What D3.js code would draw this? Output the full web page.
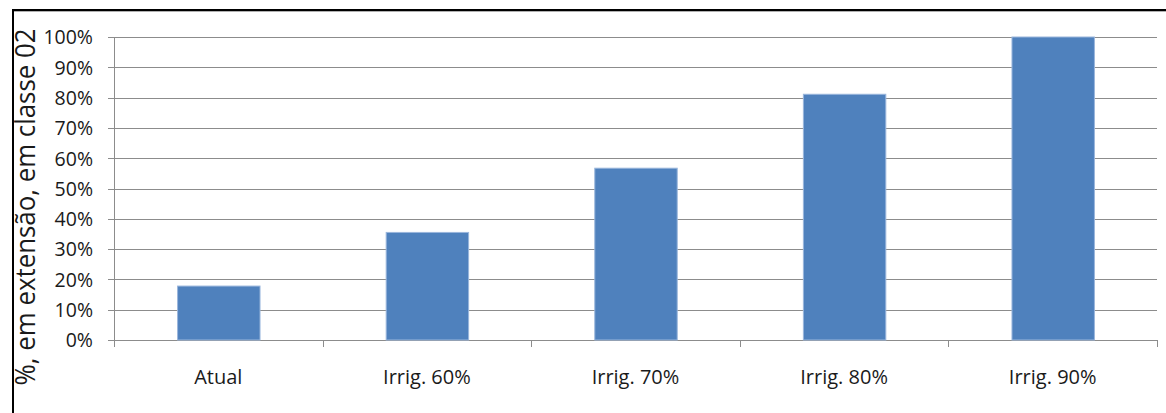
<!DOCTYPE html>
<html>
<head>
<meta charset="utf-8">
<script src="https://cdn.jsdelivr.net/npm/d3@7"></script>
<style>
  html, body { margin: 0; padding: 0; background: #fff; }
  svg { display: block; }
  text { font-family: "Open Sans", sans-serif; fill: #1a1a1a; }
</style>
</head>
<body>
<svg id="chart" width="1166" height="413"></svg>
<script>
// Share of extent in class 02 per irrigation scenario
const categories = ["Atual", "Irrig. 60%", "Irrig. 70%", "Irrig. 80%", "Irrig. 90%"];
const values = [17.8, 35.5, 56.7, 81.1, 100];
const yTicks = [0, 10, 20, 30, 40, 50, 60, 70, 80, 90, 100];
const yTitle = "%, em extensão, em classe 02";

const svg = d3.select("#chart");
const plot = { left: 114, right: 1157, top: 37, bottom: 340 };

const x = d3.scaleBand()
  .domain(categories)
  .range([plot.left, plot.right])
  .paddingInner(0.6)
  .paddingOuter(0.3);

const y = d3.scaleLinear()
  .domain([0, 100])
  .range([plot.bottom, plot.top]);

// Frame edges (top and left)
svg.append("line").attr("x1", 12).attr("x2", 1166).attr("y1", 11.5).attr("y2", 11.5)
  .attr("stroke", "#b0b0b0").attr("stroke-width", 1);
svg.append("line").attr("x1", 12).attr("x2", 1166).attr("y1", 10).attr("y2", 10)
  .attr("stroke", "#000").attr("stroke-width", 2);
svg.append("line").attr("x1", 13).attr("x2", 13).attr("y1", 9).attr("y2", 413)
  .attr("stroke", "#000").attr("stroke-width", 2);

// Horizontal gridlines with left tick marks
const grid = svg.append("g");
grid.selectAll("line")
  .data(yTicks)
  .join("line")
  .attr("x1", plot.left - 6)
  .attr("x2", plot.right)
  .attr("y1", d => Math.round(y(d)) + 0.5)
  .attr("y2", d => Math.round(y(d)) + 0.5)
  .attr("stroke", "#8c8c8c")
  .attr("stroke-width", 1);

// Y axis labels
const yAxis = d3.axisLeft(y)
  .tickValues(yTicks)
  .tickFormat(d => d + "%")
  .tickSize(0)
  .tickPadding(0);
const yg = svg.append("g")
  .attr("transform", `translate(${plot.left - 21},0)`)
  .call(yAxis);
yg.select(".domain").remove();
yg.selectAll("text")
  .attr("font-size", 19.5)
  .attr("font-family", "Open Sans, sans-serif")
  .attr("fill", "#1a1a1a")
  .attr("dy", "0.35em");

// Y axis line
svg.append("line")
  .attr("x1", plot.left + 0.5).attr("x2", plot.left + 0.5)
  .attr("y1", plot.top).attr("y2", plot.bottom + 7)
  .attr("stroke", "#8c8c8c");

// Category boundary ticks
const step = x.step();
const bounds = d3.range(categories.length + 1).map(i => plot.left + i * step);
svg.append("g").selectAll("line")
  .data(bounds)
  .join("line")
  .attr("x1", d => Math.round(d) + 0.5)
  .attr("x2", d => Math.round(d) + 0.5)
  .attr("y1", plot.bottom)
  .attr("y2", plot.bottom + 7)
  .attr("stroke", "#8c8c8c");

// Bars
svg.append("g").selectAll("rect")
  .data(values)
  .join("rect")
  .attr("x", (d, i) => x(categories[i]) + 1)
  .attr("width", x.bandwidth() - 1)
  .attr("y", d => y(d))
  .attr("height", d => y(0) - y(d))
  .attr("fill", "#4f81bd")
  .attr("stroke", "#9ab6dc")
  .attr("stroke-width", 1);

// Category labels
svg.append("g").selectAll("text")
  .data(categories)
  .join("text")
  .attr("x", d => x(d) + x.bandwidth() / 2)
  .attr("y", 384)
  .attr("text-anchor", "middle")
  .attr("font-size", 20)
  .text(d => d);

// Y axis title
svg.append("text")
  .attr("transform", `translate(35,${(28 + 386) / 2}) rotate(-90)`)
  .attr("text-anchor", "middle")
  .attr("font-size", 27)
  .attr("textLength", 357)
  .attr("lengthAdjust", "spacingAndGlyphs")
  .text(yTitle);
</script>
</body>
</html>
